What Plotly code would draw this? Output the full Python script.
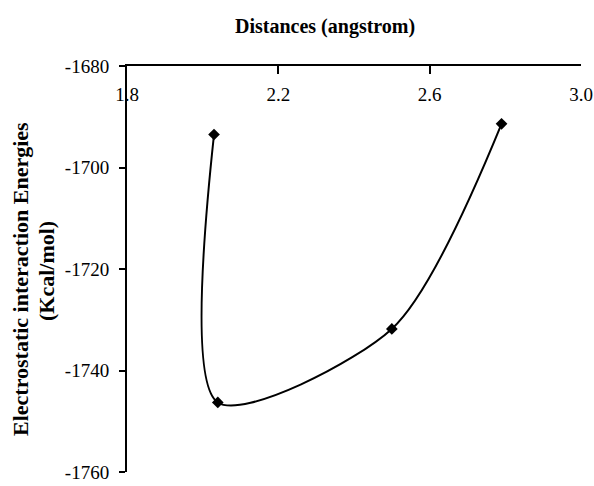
import plotly.graph_objects as go

# Data
distances = [2.03, 2.04, 2.50, 2.79]
energies = [-1693.5, -1746.3, -1731.8, -1691.4]

x_ticks = [1.8, 2.2, 2.6, 3.0]
x_tick_labels = ["1.8", "2.2", "2.6", "3.0"]
y_ticks = [-1680, -1700, -1720, -1740, -1760]
y_tick_labels = ["-1680", "-1700", "-1720", "-1740", "-1760"]

x_title = "Distances (angstrom)"
y_title_line1 = "Electrostatic interaction Energies"
y_title_line2 = "(Kcal/mol)"

FONT = "Liberation Serif, Times New Roman, serif"

fig = go.Figure()
fig.add_trace(go.Scatter(
    x=distances, y=energies,
    mode="lines+markers",
    line=dict(color="black", width=2, shape="spline", smoothing=0.8),
    marker=dict(symbol="diamond", size=9, color="black"),
    showlegend=False, cliponaxis=False,
))

fig.update_layout(
    width=594, height=486,
    margin=dict(l=127, r=13, t=66, b=14, autoexpand=False),
    paper_bgcolor="white", plot_bgcolor="white",
    font=dict(family=FONT, color="black", size=19),
    xaxis=dict(
        side="top", range=[1.8, 3.0], automargin=False,
        tickvals=x_ticks, ticktext=x_tick_labels,
        ticks="inside", ticklen=8, tickwidth=2, tickcolor="black",
        ticklabelposition="inside", ticklabelstandoff=15,
        ticklabeloverflow="allow",
        showline=True, linewidth=2, linecolor="black",
        showgrid=False, zeroline=False,
        tickfont=dict(family=FONT, size=19, color="black"),
    ),
    yaxis=dict(
        range=[-1760, -1680], automargin=False,
        tickvals=y_ticks, ticktext=y_tick_labels,
        ticks="outside", ticklen=6, tickwidth=2, tickcolor="black",
        ticklabelstandoff=6, ticklabeloverflow="allow",
        showline=True, linewidth=2, linecolor="black",
        showgrid=False, zeroline=False,
        tickfont=dict(family=FONT, size=19, color="black"),
    ),
    annotations=[
        dict(text="<b>" + x_title + "</b>", xref="paper", yref="paper",
             x=(325 - 127) / 454, y=(472 - 27) / 406,
             xanchor="center", yanchor="middle", showarrow=False,
             font=dict(family=FONT, size=20, color="black")),
        dict(text="<b>" + y_title_line1 + "</b>", xref="paper", yref="paper",
             x=(20 - 127) / 454, y=(472 - 279) / 406, textangle=-90,
             xanchor="center", yanchor="middle", showarrow=False,
             font=dict(family=FONT, size=22, color="black")),
        dict(text="<b>" + y_title_line2 + "</b>", xref="paper", yref="paper",
             x=(46 - 127) / 454, y=(472 - 271) / 406, textangle=-90,
             xanchor="center", yanchor="middle", showarrow=False,
             font=dict(family=FONT, size=22, color="black")),
    ],
)

fig.write_html("out.html")
